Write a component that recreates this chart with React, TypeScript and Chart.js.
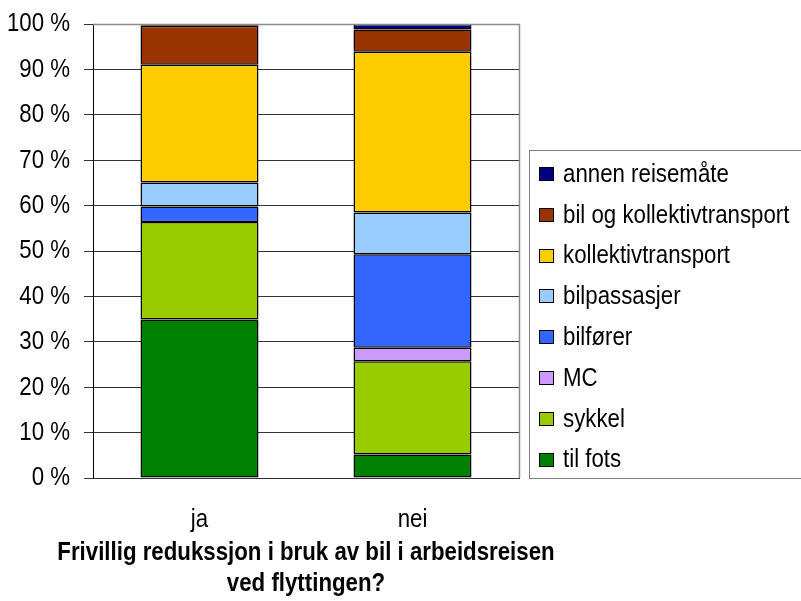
import React, { useEffect, useRef } from "react";
import { Chart, registerables } from "chart.js";

Chart.register(...registerables);

const categories = ["ja", "nei"];
const seriesLabels = [
  "til fots",
  "sykkel",
  "MC",
  "bilfører",
  "bilpassasjer",
  "kollektivtransport",
  "bil og kollektivtransport",
  "annen reisemåte",
];
const seriesColors = [
  "#008000",
  "#99CC00",
  "#CC99FF",
  "#3366FF",
  "#99CCFF",
  "#FFCC00",
  "#993300",
  "#000080",
];
const tilFots = [34.9, 5.2];
const sykkel = [21.5, 20.5];
const mc = [0, 3.0];
const bilforer = [3.4, 20.6];
const bilpassasjer = [5.3, 9.2];
const kollektivtransport = [25.9, 35.4];
const bilOgKollektiv = [8.6, 4.9];
const annenReisemate = [0.4, 1.2];
const seriesValues = [tilFots, sykkel, mc, bilforer, bilpassasjer, kollektivtransport, bilOgKollektiv, annenReisemate];
const axisTitle = ["Frivillig redukssjon i bruk av bil i arbeidsreisen", "ved flyttingen?"];

const FONT = "'Liberation Sans', Arial, sans-serif";
const FONT_SIZE = 26.5;
const NARROW = 0.84; // emulate Arial Narrow by horizontal compression

const narrowText = {
  id: "narrowText",
  beforeDraw(chart: any) {
    const ctx = chart.ctx;
    if (ctx.__origFillText) return;
    const orig = ctx.fillText;
    ctx.__origFillText = orig;
    ctx.fillText = function (text: string, x: number, y: number) {
      this.save();
      this.translate(x, y);
      this.scale(NARROW, 1);
      orig.call(this, text, 0, 0);
      this.restore();
    };
  },
  afterDraw(chart: any) {
    const { ctx, chartArea } = chart;
    ctx.save();
    // plot area border (top & right, grey)
    ctx.strokeStyle = "#8c8c8c";
    ctx.lineWidth = 1.5;
    ctx.beginPath();
    ctx.moveTo(chartArea.left, Math.round(chartArea.top) + 0.5);
    ctx.lineTo(Math.round(chartArea.right) + 0.5, Math.round(chartArea.top) + 0.5);
    ctx.lineTo(Math.round(chartArea.right) + 0.5, chartArea.bottom);
    ctx.stroke();

    // legend box
    const lx = 529.5, ly = 150.5, lb = 478.5;
    ctx.lineWidth = 1;
    ctx.strokeStyle = "#808080";
    ctx.strokeRect(lx, ly, 300, lb - ly);
    const ds = chart.data.datasets;
    const step = 40.8;
    ctx.font = FONT_SIZE + "px " + FONT;
    ctx.textBaseline = "middle";
    ctx.textAlign = "left";
    for (let i = 0; i < ds.length; i++) {
      const d = ds[ds.length - 1 - i];
      const cy = 173.5 + i * step;
      const top = Math.round(cy - 6.5);
      ctx.fillStyle = d.backgroundColor;
      ctx.fillRect(539, top, 14, 13);
      ctx.strokeStyle = "#000";
      ctx.strokeRect(539.5, top + 0.5, 14, 13);
      ctx.fillStyle = "#000";
      ctx.fillText(d.label, 563, cy + 1);
    }
    ctx.restore();
    if (ctx.__origFillText) {
      ctx.fillText = ctx.__origFillText;
      delete ctx.__origFillText;
    }
  },
};

export default function App() {
  const ref = useRef<HTMLCanvasElement | null>(null);
  useEffect(() => {
    document.body.style.margin = "0";
    const chart = new Chart(ref.current as HTMLCanvasElement, {
      type: "bar",
      data: {
        labels: categories,
        datasets: seriesLabels.map((label, i) => ({
          label,
          data: seriesValues[i],
          backgroundColor: seriesColors[i],
          borderColor: "#000",
          borderWidth: 1.5,
          borderSkipped: false,
          categoryPercentage: 1,
          barPercentage: 0.554,
        })),
      },
      options: {
        animation: false,
        responsive: false,
        layout: { padding: { top: 24, right: 282, left: 0, bottom: 0 } },
        plugins: { legend: { display: false }, tooltip: { enabled: false } },
        scales: {
          x: {
            stacked: true,
            grid: { display: false, drawTicks: false },
            border: { display: true, color: "#333", width: 1 },
            ticks: { color: "#000", font: { family: FONT, size: FONT_SIZE }, padding: 26 },
            title: {
              display: true,
              text: axisTitle,
              color: "#000",
              font: { family: FONT, size: FONT_SIZE, weight: "bold", lineHeight: 31 / FONT_SIZE },
              padding: { top: 0, bottom: 2 },
            },
            afterFit: (s: any) => {
              s.height = 123;
              s.paddingLeft = 0;
              s.paddingRight = 0;
              s.paddingTop = 0;
              s.paddingBottom = 0;
            },
          },
          y: {
            stacked: true,
            min: 0,
            max: 100,
            ticks: {
              stepSize: 10,
              color: "#000",
              font: { family: FONT, size: FONT_SIZE },
              padding: 14,
              callback: (v: any) => v + " %",
            },
            grid: { color: "#333", tickLength: 9, drawTicks: true },
            border: { display: true, color: "#000", width: 1 },
            afterFit: (s: any) => {
              s.width = 93;
              s.paddingTop = 0;
              s.paddingBottom = 0;
              s.paddingLeft = 0;
              s.paddingRight = 0;
            },
          },
        },
      },
      plugins: [narrowText],
    });
    return () => chart.destroy();
  }, []);
  return (
    <div style={{ position: "absolute", left: 0, top: 0, width: 801, height: 601, background: "#fff" }}>
      <canvas ref={ref} width={801} height={601} style={{ display: "block" }} />
    </div>
  );
}
